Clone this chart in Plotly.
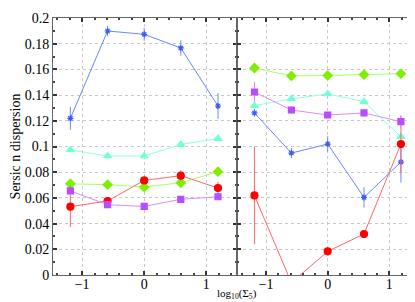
import plotly.graph_objects as go
from plotly.subplots import make_subplots

x = [-1.19, -0.59, 0.0, 0.59, 1.19]

# Left panel
blue_l = [0.1219, 0.1899, 0.1873, 0.1767, 0.1315]
blue_l_err = [0.009, 0.004, 0.005, 0.006, 0.010]
cyan_l = [0.0973, 0.0926, 0.0926, 0.1016, 0.1062]
cyan_l_err = [0.001, 0.001, 0.001, 0.001, 0.001]
green_l = [0.0710, 0.0703, 0.0685, 0.0718, 0.0804]
green_l_err = [0.001, 0.001, 0.001, 0.001, 0.001]
red_l = [0.0532, 0.0576, 0.0736, 0.0773, 0.0677]
red_l_err = [0.016, 0.002, 0.002, 0.004, 0.005]
purple_l = [0.0654, 0.0547, 0.0534, 0.0589, 0.0609]
purple_l_err = [0.002, 0.001, 0.001, 0.001, 0.001]

# Right panel
blue_r = [0.1261, 0.0949, 0.1019, 0.0604, 0.0879]
blue_r_err = [0.003, 0.004, 0.006, 0.008, 0.016]
cyan_r = [0.1318, 0.1370, 0.1409, 0.1349, 0.1076]
cyan_r_err = [0.001, 0.001, 0.001, 0.001, 0.001]
green_r = [0.1611, 0.1549, 0.1553, 0.1559, 0.1567]
green_r_err = [0.002, 0.001, 0.001, 0.001, 0.002]
red_r = [0.0619, -0.0060, 0.0184, 0.0319, 0.1019]
red_r_err = [0.038, 0.002, 0.001, 0.001, 0.022]
purple_r = [0.1424, 0.1284, 0.1245, 0.1261, 0.1193]
purple_r_err = [0.008, 0.003, 0.002, 0.003, 0.005]

styles = {
    "blue": dict(line="#6a86ff", marker="#3a5cf5", symbol="asterisk-open", size=5),
    "cyan": dict(line="#8cffe4", marker="#72ffd6", symbol="triangle-up", size=7),
    "green": dict(line="#a6ff66", marker="#7cf000", symbol="diamond", size=7),
    "red": dict(line="#ff6666", marker="#ff0000", symbol="circle", size=7),
    "purple": dict(line="#d98cff", marker="#b84cff", symbol="square", size=6),
}

fig = make_subplots(rows=1, cols=2, shared_yaxes=True, horizontal_spacing=0)

panels = [
    (1, [("blue", blue_l, blue_l_err), ("cyan", cyan_l, cyan_l_err),
         ("green", green_l, green_l_err), ("red", red_l, red_l_err),
         ("purple", purple_l, purple_l_err)]),
    (2, [("blue", blue_r, blue_r_err), ("cyan", cyan_r, cyan_r_err),
         ("green", green_r, green_r_err), ("red", red_r, red_r_err),
         ("purple", purple_r, purple_r_err)]),
]

for col, series in panels:
    for name, ys, errs in series:
        s = styles[name]
        fig.add_trace(go.Scatter(
            x=x, y=ys, mode="lines+markers", showlegend=False,
            line=dict(color=s["line"], width=1),
            marker=dict(color=s["marker"], symbol=s["symbol"], size=s["size"],
                        line=dict(color=s["marker"], width=1.2)),
            error_y=dict(type="data", array=errs, color=s["line"], thickness=1, width=0),
        ), row=1, col=col)

font = dict(family="Liberation Serif", size=14, color="black")

axis_common = dict(
    showline=True, linecolor="#666666", linewidth=1, mirror="ticks",
    ticks="inside", ticklen=4, tickcolor="#333333", tickwidth=1.5,
    showgrid=True, gridcolor="#c8c8c8", griddash="dot", gridwidth=1,
    zeroline=False, tickfont=font,
)

for col in (1, 2):
    fig.update_xaxes(range=[-1.47, 1.5], tickvals=[-1, 0, 1], ticktext=["\u22121", "0", "1"],
                     ticklabelstandoff=-4,
                     minor=dict(dtick=0.2, tick0=0, ticks="inside", ticklen=2, tickcolor="#444444", showgrid=False),
                     row=1, col=col, **axis_common)
fig.update_yaxes(range=[0, 0.2], tickvals=[0, 0.02, 0.04, 0.06, 0.08, 0.1, 0.12, 0.14, 0.16, 0.18, 0.2],
                 ticktext=["0", "0.02", "0.04", "0.06", "0.08", "0.1", "0.12", "0.14", "0.16", "0.18", "0.2"],
                 minor=dict(dtick=0.01, tick0=0, ticks="inside", ticklen=2, tickcolor="#444444", showgrid=False),
                 **axis_common)
fig.update_yaxes(title=dict(text="Sersic n dispersion", font=font, standoff=2), row=1, col=1)
fig.update_yaxes(showticklabels=False, row=1, col=2)

fig.update_layout(
    width=415, height=302,
    margin=dict(l=45, r=3, t=10, b=35),
    plot_bgcolor="white", paper_bgcolor="white",
    font=font,
)
fig.layout.xaxis.domain = [0, 0.502]
fig.layout.xaxis2.domain = [0.502, 1]

fig.add_annotation(text="log<sub>10</sub>(Σ<sub>5</sub>)", xref="paper", yref="paper",
                   x=0.502, y=0, yshift=-11, xanchor="center", yanchor="top", borderpad=0,
                   showarrow=False, font=dict(family="Liberation Serif", size=11, color="black"))

fig.write_html("out.html")
